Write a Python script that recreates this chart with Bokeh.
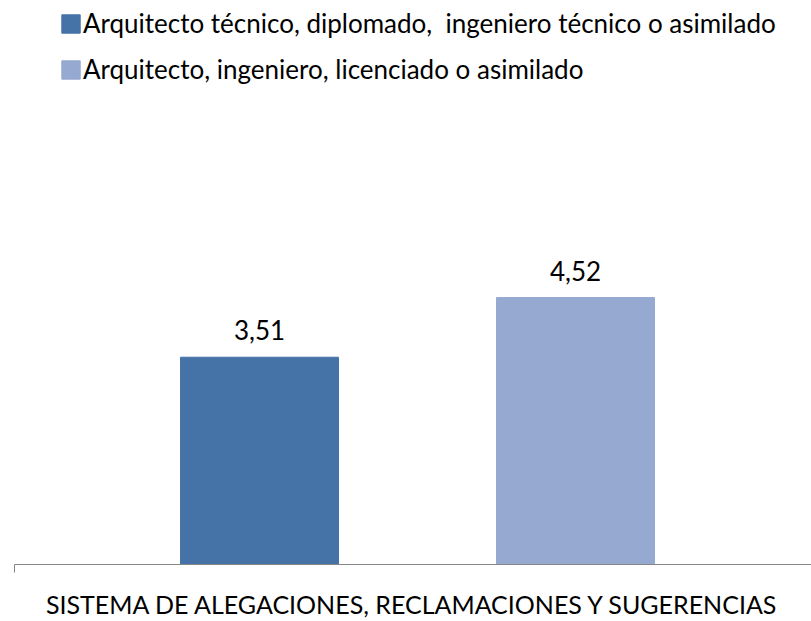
from bokeh.plotting import figure
from bokeh.models import Range1d, Legend, LegendItem, ColumnDataSource, FixedTicker, LinearAxis
from bokeh.embed import file_html
from bokeh.resources import INLINE
from bokeh.core.properties import value

category = "SISTEMA DE ALEGACIONES, RECLAMACIONES Y SUGERENCIAS"
series = ["Arquitecto técnico, diplomado,  ingeniero técnico o asimilado",
          "Arquitecto, ingeniero, licenciado o asimilado"]
values = [3.51, 4.52]
colors = ["#4573A7", "#95A9D1"]

FONT = "Lato"
bar_w = 0.196
n = len(series)
xs = [(i - (n - 1) / 2) * 2 * bar_w for i in range(n)]
labels = [f"{v:.2f}".replace(".", ",") for v in values]

src = ColumnDataSource(dict(x=xs, top=values, color=colors, label=labels, name=series))

p = figure(width=811, height=621, output_backend="svg", toolbar_location=None,
           x_range=Range1d(-0.5, 0.4888), y_range=Range1d(0, 9.55),
           min_border_left=14, min_border_right=0, min_border_top=0, min_border_bottom=55,
           x_axis_location=None, y_axis_location=None)
p.outline_line_color = None
p.xgrid.visible = False
p.ygrid.visible = False
p.background_fill_color = "white"
p.border_fill_color = "white"

r = p.vbar(x="x", top="top", width=bar_w, bottom=0, color="color", source=src)

p.text(x="x", y="top", text="label", source=src, text_align="center",
       text_baseline="alphabetic", y_offset=-27, text_font=value(FONT),
       text_font_size="26px", text_color="black")

ax = LinearAxis(ticker=FixedTicker(ticks=[-0.5]), axis_label=category)
ax.axis_line_color = "#868686"
ax.major_tick_line_color = "#868686"
ax.major_tick_out = 8
ax.major_tick_in = 0
ax.minor_tick_line_color = None
ax.major_label_text_font_size = "0px"
ax.major_label_text_color = None
ax.major_label_standoff = 0
ax.axis_label_text_font = FONT
ax.axis_label_text_font_size = "25px"
ax.axis_label_text_font_style = "normal"
ax.axis_label_text_color = "black"
ax.axis_label_standoff = 16
p.add_layout(ax, "below")

items = []
for i, s in enumerate(series):
    items.append(LegendItem(label=s, renderers=[r], index=i))
leg = Legend(items=items, orientation="vertical")
leg.border_line_color = None
leg.background_fill_alpha = 0
leg.glyph_width = 23
leg.glyph_height = 23
leg.label_text_font = FONT
leg.label_text_font_size = "26px"
leg.label_text_color = "black"
leg.label_standoff = 1
leg.label_height = 18
leg.spacing = 14
leg.padding = 0
leg.margin = 0
leg.location = (45, 479)
p.add_layout(leg)

open("out.html", "w").write(file_html(p, INLINE))
